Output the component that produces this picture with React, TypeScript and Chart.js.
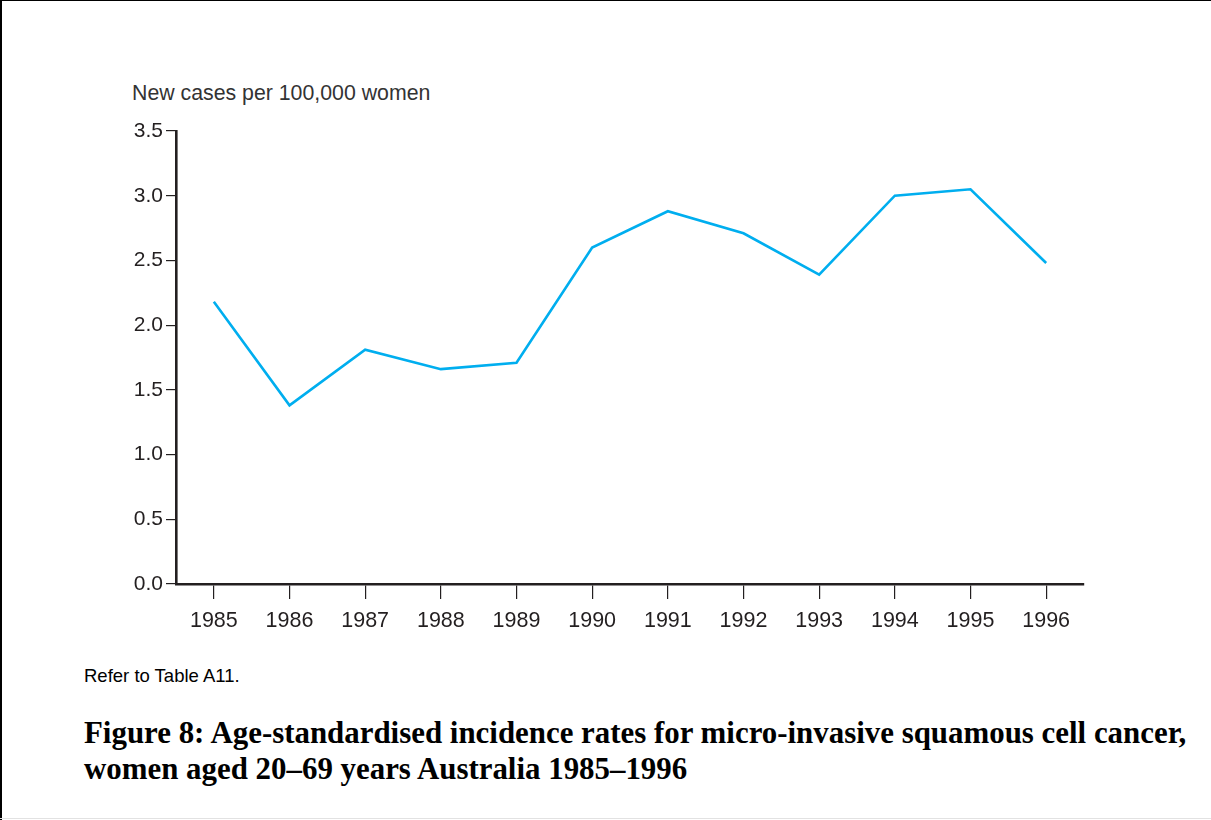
import React, { useEffect, useRef } from "react";
import { Chart, registerables } from "chart.js";

Chart.register(...registerables);

const years: string[] = ["1985", "1986", "1987", "1988", "1989", "1990", "1991", "1992", "1993", "1994", "1995", "1996"];
const rates: number[] = [2.18, 1.38, 1.81, 1.66, 1.71, 2.6, 2.88, 2.71, 2.39, 3.0, 3.05, 2.48];
const yTicks: number[] = [0, 0.5, 1.0, 1.5, 2.0, 2.5, 3.0, 3.5];

const yTitle = "New cases per 100,000 women";
const note = "Refer to Table A11.";
const captionLine1 = "Figure 8: Age-standardised incidence rates for micro-invasive squamous cell cancer,";
const captionLine2 = "women aged 20–69 years Australia 1985–1996";

const INK = "#231f20";
const SANS = "'Liberation Sans', Arial, Helvetica, sans-serif";

export default function App() {
  const canvasRef = useRef<HTMLCanvasElement | null>(null);

  useEffect(() => {
    if (!canvasRef.current) return;
    const chart = new Chart(canvasRef.current, {
      type: "line",
      data: {
        labels: years,
        datasets: [
          {
            data: rates,
            borderColor: "#00aeef",
            borderWidth: 2.6,
            pointRadius: 0,
            pointHoverRadius: 0,
            tension: 0,
            fill: false,
          },
        ],
      },
      options: {
        animation: false,
        responsive: false,
        maintainAspectRatio: false,
        layout: { padding: { top: 21, right: 127, bottom: 0, left: 0 } },
        plugins: {
          legend: { display: false },
          tooltip: { enabled: false },
          title: { display: false },
        },
        scales: {
          x: {
            type: "category",
            offset: true,
            grid: {
              display: true,
              drawOnChartArea: false,
              drawTicks: true,
              tickLength: 15,
              color: INK,
              lineWidth: 1.2,
              offset: false,
            },
            border: { display: true, color: INK, width: 2.6 },
            ticks: {
              color: INK,
              font: { family: SANS, size: 21.5 },
              padding: 9,
              maxRotation: 0,
              autoSkip: false,
            },
            afterFit: (scale: any) => {
              scale.height = 66;
            },
          },
          y: {
            min: 0,
            max: 3.5,
            afterBuildTicks: (scale: any) => {
              scale.ticks = yTicks.map((v) => ({ value: v }));
            },
            grid: {
              display: true,
              drawOnChartArea: false,
              drawTicks: true,
              tickLength: 10,
              color: INK,
              lineWidth: 1.2,
            },
            border: { display: true, color: INK, width: 2.6 },
            ticks: {
              color: INK,
              font: { family: SANS, size: 21 },
              padding: 3,
              callback: (v: any) => Number(v).toFixed(1),
            },
            afterFit: (scale: any) => {
              scale.width = 176;
            },
          },
        },
      },
    });
    return () => chart.destroy();
  }, []);

  return (
    <div
      style={{
        position: "fixed",
        left: 0,
        top: 0,
        width: 1211,
        height: 820,
        background: "#fff",
        overflow: "hidden",
      }}
    >
      <div style={{ position: "absolute", left: 0, top: 0, width: 1211, height: 1, background: "#000" }} />
      <div style={{ position: "absolute", left: 0, top: 0, width: 2, height: 820, background: "#000" }} />
      <div style={{ position: "absolute", left: 0, top: 818, width: 1211, height: 1, background: "#e2e2e2" }} />
      <div
        style={{
          position: "absolute",
          left: 132,
          top: 83,
          fontFamily: SANS,
          fontSize: 21.3,
          lineHeight: "21px",
          color: "#333",
          whiteSpace: "nowrap",
        }}
      >
        {yTitle}
      </div>
      <canvas
        ref={canvasRef}
        width={1211}
        height={540}
        style={{ position: "absolute", left: 0, top: 110, width: 1211, height: 540 }}
      />
      <div
        style={{
          position: "absolute",
          left: 84,
          top: 667,
          fontFamily: SANS,
          fontSize: 18.5,
          lineHeight: "18px",
          color: "#000",
          whiteSpace: "nowrap",
        }}
      >
        {note}
      </div>
      <div
        style={{
          position: "absolute",
          left: 84,
          top: 715,
          fontFamily: "'Liberation Serif', 'Times New Roman', serif",
          fontWeight: "bold",
          fontSize: 30.9,
          lineHeight: "36px",
          color: "#000",
          whiteSpace: "nowrap",
        }}
      >
        <div>{captionLine1}</div>
        <div>{captionLine2}</div>
      </div>
    </div>
  );
}
